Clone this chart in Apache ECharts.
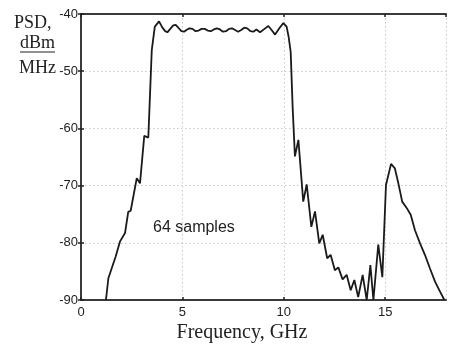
<!DOCTYPE html>
<html>
<head>
<meta charset="utf-8">
<script src="https://cdn.jsdelivr.net/npm/echarts@6/dist/echarts.min.js"></script>
<style>
html,body{margin:0;padding:0;background:#fff;}
#chart{width:450px;height:345px;}
</style>
</head>
<body>
<div id="chart"></div>
<script>
// Frequency, GHz
var freq = [
  1.23, 1.35, 1.71, 1.92, 2.17, 2.33, 2.45, 2.75, 2.91, 3.12, 3.32, 3.49, 3.64, 3.85,
  4.0, 4.15, 4.26, 4.4, 4.55, 4.67, 4.8, 4.95, 5.08, 5.2, 5.35, 5.5, 5.65, 5.8, 5.95,
  6.1, 6.25, 6.4, 6.55, 6.7, 6.85, 7.0, 7.15, 7.3, 7.45, 7.6, 7.75, 7.9, 8.05, 8.2,
  8.35, 8.5, 8.65, 8.83, 9.05, 9.24, 9.4, 9.57, 9.78, 9.98, 10.14, 10.24, 10.34,
  10.44, 10.55, 10.72, 10.96, 11.13, 11.36, 11.54, 11.75, 11.92, 12.14, 12.31,
  12.52, 12.69, 12.9, 13.1, 13.3, 13.48, 13.67, 13.89, 14.09, 14.27, 14.42, 14.66,
  14.86, 15.04, 15.29, 15.48, 15.65, 15.84, 16.06, 16.26, 16.47, 16.72, 16.96,
  17.21, 17.46, 17.7, 17.92
];
// PSD, dBm/MHz
var psd = [
  -90, -86.2, -82.4, -79.8, -78.3, -74.6, -74.4, -68.7, -69.6, -61.3, -61.6, -46.3, -42.2, -41.3,
  -42.3, -43.0, -43.2, -42.6, -42.0, -41.9, -42.4, -43.0, -43.1, -42.8, -42.5, -42.6, -43.0, -42.9, -42.6,
  -42.6, -42.9, -43.0, -42.7, -42.5, -42.7, -43.1, -43.0, -42.6, -42.5, -42.8, -43.1, -42.8, -42.4, -42.5,
  -43.0, -43.1, -42.7, -43.2, -42.6, -42.1, -42.8, -43.6, -42.5, -41.6, -42.2, -44.0, -46.6,
  -56.5, -64.9, -62.0, -72.8, -69.8, -77.2, -74.5, -80.1, -78.6, -82.7, -82.1,
  -84.8, -84.3, -86.4, -85.6, -88.3, -86.5, -89.5, -85.6, -90, -83.9, -90, -80.3,
  -86.0, -69.9, -66.2, -67.0, -69.6, -72.8, -73.9, -75.1, -77.8, -80.1, -82.1,
  -84.5, -86.8, -88.5, -90
];
var xTicks = [0, 5, 10, 15];
var yTicks = [-90, -80, -70, -60, -50, -40];

var data = freq.map(function (f, i) { return [f, psd[i]]; });

var chart = echarts.init(document.getElementById('chart'), null, {renderer: 'canvas'});
var sans = '"Liberation Sans", Arial, sans-serif';
var serif = '"Liberation Serif", "Times New Roman", serif';
var frame = {show: true, lineStyle: {color: '#3a3a3a', width: 2}};
var tick = {show: true, inside: true, length: 3, lineStyle: {color: '#222', width: 1.5}};
var grid = {show: true, lineStyle: {color: '#c8c8c8', type: [1.5, 2.5], width: 1}};

chart.setOption({
  animation: false,
  backgroundColor: '#fff',
  grid: {left: 81, right: 4, top: 14, bottom: 45, containLabel: false},
  xAxis: [
    {type: 'value', min: 0, max: 18, interval: 5, position: 'bottom',
     axisLine: frame, axisTick: tick, splitLine: grid,
     axisLabel: {show: true, margin: 6, fontSize: 13, color: '#222', fontFamily: sans,
       showMaxLabel: false,
       formatter: function (v) { return xTicks.indexOf(v) >= 0 ? String(v) : ''; }}},
    {type: 'value', min: 0, max: 18, interval: 5, position: 'top',
     axisLine: frame, axisTick: tick, splitLine: {show: false}, axisLabel: {show: false}}
  ],
  yAxis: [
    {type: 'value', min: -90, max: -40, interval: 10, position: 'left',
     axisLine: frame, axisTick: tick, splitLine: grid,
     axisLabel: {show: true, margin: 3, fontSize: 13, color: '#222', fontFamily: sans,
       formatter: function (v) { return yTicks.indexOf(v) >= 0 ? String(v) : ''; }}},
    {type: 'value', min: -90, max: -40, interval: 10, position: 'right',
     axisLine: frame, axisTick: tick, splitLine: {show: false}, axisLabel: {show: false}}
  ],
  series: [{
    type: 'line', xAxisIndex: 0, yAxisIndex: 0, data: data,
    symbol: 'none', smooth: false, clip: true,
    lineStyle: {color: '#1a1a1a', width: 1.8}
  }],
  graphic: [
    {type: 'text', x: 14, y: 23, style: {text: 'PSD,', font: '18px ' + serif, fill: '#222', align: 'left', verticalAlign: 'middle'}},
    {type: 'text', x: 20, y: 43, style: {text: 'dBm', font: '18px ' + serif, fill: '#222', align: 'left', verticalAlign: 'middle'}},
    {type: 'line', shape: {x1: 20, y1: 52, x2: 55, y2: 52}, style: {stroke: '#222', lineWidth: 1.2}},
    {type: 'text', x: 19, y: 68, style: {text: 'MHz', font: '18px ' + serif, fill: '#222', align: 'left', verticalAlign: 'middle'}},
    {type: 'text', x: 242, y: 333, style: {text: 'Frequency, GHz', font: '20px ' + serif, fill: '#222', align: 'center', verticalAlign: 'middle'}},
    {type: 'text', x: 153, y: 228, style: {text: '64 samples', font: '16px ' + sans, fill: '#222', align: 'left', verticalAlign: 'middle'}}
  ]
});
</script>
</body>
</html>
